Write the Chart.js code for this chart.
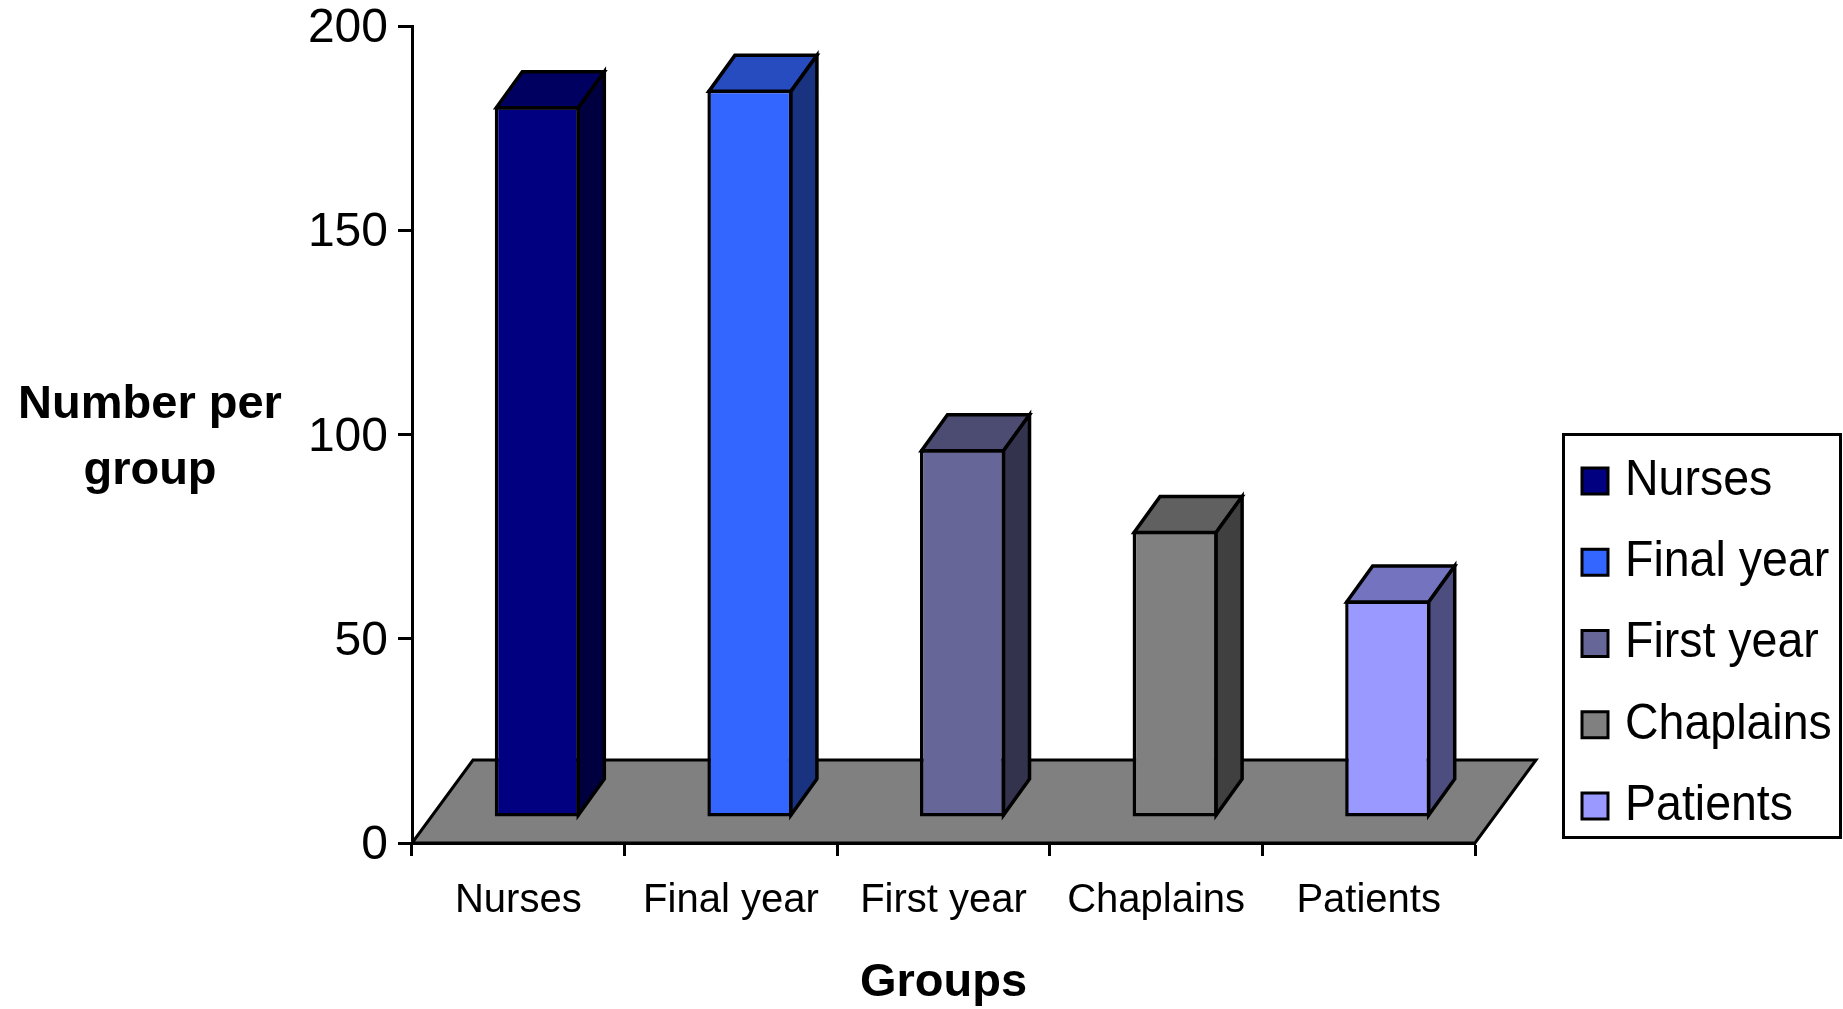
<!DOCTYPE html>
<html>
<head>
<meta charset="utf-8">
<script src="https://cdn.jsdelivr.net/npm/chart.js@4.4.1/dist/chart.umd.min.js"></script>
<style>
  html, body { margin: 0; padding: 0; background: #fff; }
  #wrap { width: 1843px; height: 1009px; }
</style>
</head>
<body>
<div id="wrap"><canvas id="myChart" width="1843" height="1009"></canvas></div>
<script>
const groups = ["Nurses", "Final year", "First year", "Chaplains", "Patients"];
const counts = [174, 178, 90, 70, 53];
const yTicks = [0, 50, 100, 150, 200];
const frontColors = ["#000080", "#3366FF", "#666699", "#808080", "#9999FF"];
const topColors = ["#000060", "#264CBF", "#4C4C73", "#606060", "#7373BF"];
const sideColors = ["#000040", "#193380", "#33334D", "#404040", "#4D4D80"];

const FONT = "'Liberation Sans', Arial, sans-serif";
// oblique depth of the floor and the columns
const floorDepth = { x: 61, y: -83 };
const frontShift = { x: 19, y: -26 };
const barDepth = { x: 26, y: -36 };

function face(ctx, pts, fill) {
  ctx.beginPath();
  ctx.moveTo(pts[0][0], pts[0][1]);
  for (let k = 1; k < pts.length; k++) ctx.lineTo(pts[k][0], pts[k][1]);
  ctx.closePath();
  ctx.fillStyle = fill;
  ctx.fill();
  ctx.stroke();
}

const box3d = {
  id: "box3d",
  beforeDatasetsDraw(chart) {
    const ctx = chart.ctx;
    const area = chart.chartArea;
    const y0 = chart.scales.y.getPixelForValue(0);
    ctx.save();
    ctx.lineWidth = 3;
    ctx.strokeStyle = "#000";
    ctx.lineJoin = "miter";
    face(ctx, [
      [area.left, y0], [area.right, y0],
      [area.right + floorDepth.x, y0 + floorDepth.y],
      [area.left + floorDepth.x, y0 + floorDepth.y]
    ], "#808080");
    ctx.restore();
    // column fronts stand part way back on the floor
    ctx.save();
    ctx.translate(frontShift.x, frontShift.y);
  },
  afterDatasetsDraw(chart) {
    const ctx = chart.ctx;
    ctx.lineWidth = 3.5;
    ctx.strokeStyle = "#000";
    ctx.lineJoin = "miter";
    chart.getDatasetMeta(0).data.forEach((bar, i) => {
      const p = bar.getProps(["x", "y", "base", "width"], true);
      const l = p.x - p.width / 2 + 1.5, r = p.x + p.width / 2 - 1.5;
      const t = p.y + 1.5, b = p.base - 1.5;
      face(ctx, [[l, t], [r, t], [r + barDepth.x, t + barDepth.y], [l + barDepth.x, t + barDepth.y]], topColors[i]);
      face(ctx, [[r, t], [r + barDepth.x, t + barDepth.y], [r + barDepth.x, b + barDepth.y], [r, b]], sideColors[i]);
    });
    ctx.restore();
  },
  afterDraw(chart) {
    const ctx = chart.ctx;
    const area = chart.chartArea;
    ctx.save();
    ctx.fillStyle = "#000";
    ctx.font = "bold 47px " + FONT;
    ctx.textAlign = "center";
    ctx.textBaseline = "alphabetic";
    ctx.fillText("Number per", 150, 418);
    ctx.fillText("group", 150, 484);
    ctx.textBaseline = "middle";
    ctx.fillText("Groups", (area.left + area.right) / 2, 983);

    // legend box
    ctx.lineWidth = 3;
    ctx.strokeStyle = "#000";
    ctx.strokeRect(1563.5, 434.5, 277, 403);
    groups.forEach((g, i) => {
      const cy = 481 + i * 81.25;
      ctx.fillStyle = frontColors[i];
      ctx.fillRect(1582, cy - 13, 26, 26);
      ctx.strokeRect(1582, cy - 13, 26, 26);
      ctx.save();
      ctx.translate(1625, cy);
      ctx.scale(0.93, 1);
      ctx.fillStyle = "#000";
      ctx.font = "50px " + FONT;
      ctx.textAlign = "left";
      ctx.textBaseline = "middle";
      ctx.fillText(g, 0, 0);
      ctx.restore();
    });
    ctx.restore();
  }
};

window.onload = function() {
  const ctx = document.getElementById("myChart").getContext("2d");
  myChart = new Chart(ctx, {
    type: "bar",
    data: {
      labels: groups,
      datasets: [{
        data: counts,
        backgroundColor: frontColors,
        borderColor: "#000",
        borderWidth: 3.5,
        borderSkipped: false,
        barPercentage: 0.4,
        categoryPercentage: 1.0,
        clip: false
      }]
    },
    options: {
      responsive: false,
      animation: false,
      layout: { padding: { left: 0, top: 26, right: 368, bottom: 0 } },
      plugins: {
        legend: { display: false },
        tooltip: { enabled: false }
      },
      scales: {
        x: {
          offset: true,
          grid: { offset: true, drawOnChartArea: false, drawTicks: true, tickLength: 13, tickWidth: 3, tickColor: "#000" },
          border: { display: true, color: "#000", width: 3 },
          ticks: { color: "#000", font: { family: FONT, size: 40 }, padding: 21, maxRotation: 0, autoSkip: false },
          afterFit(s) { s.height = 166; }
        },
        y: {
          min: 0,
          max: 200,
          afterBuildTicks(s) { s.ticks = yTicks.map(v => ({ value: v })); },
          grid: { drawOnChartArea: false, drawTicks: true, tickLength: 14, tickWidth: 3, tickColor: "#000" },
          border: { display: true, color: "#000", width: 3 },
          ticks: { color: "#000", font: { family: FONT, size: 48 }, padding: 10, labelOffset: 3 },
          afterFit(s) { s.width = 412; s.paddingTop = 0; s.paddingBottom = 0; }
        }
      }
    },
    plugins: [box3d]
  });
};
</script>
</body>
</html>
